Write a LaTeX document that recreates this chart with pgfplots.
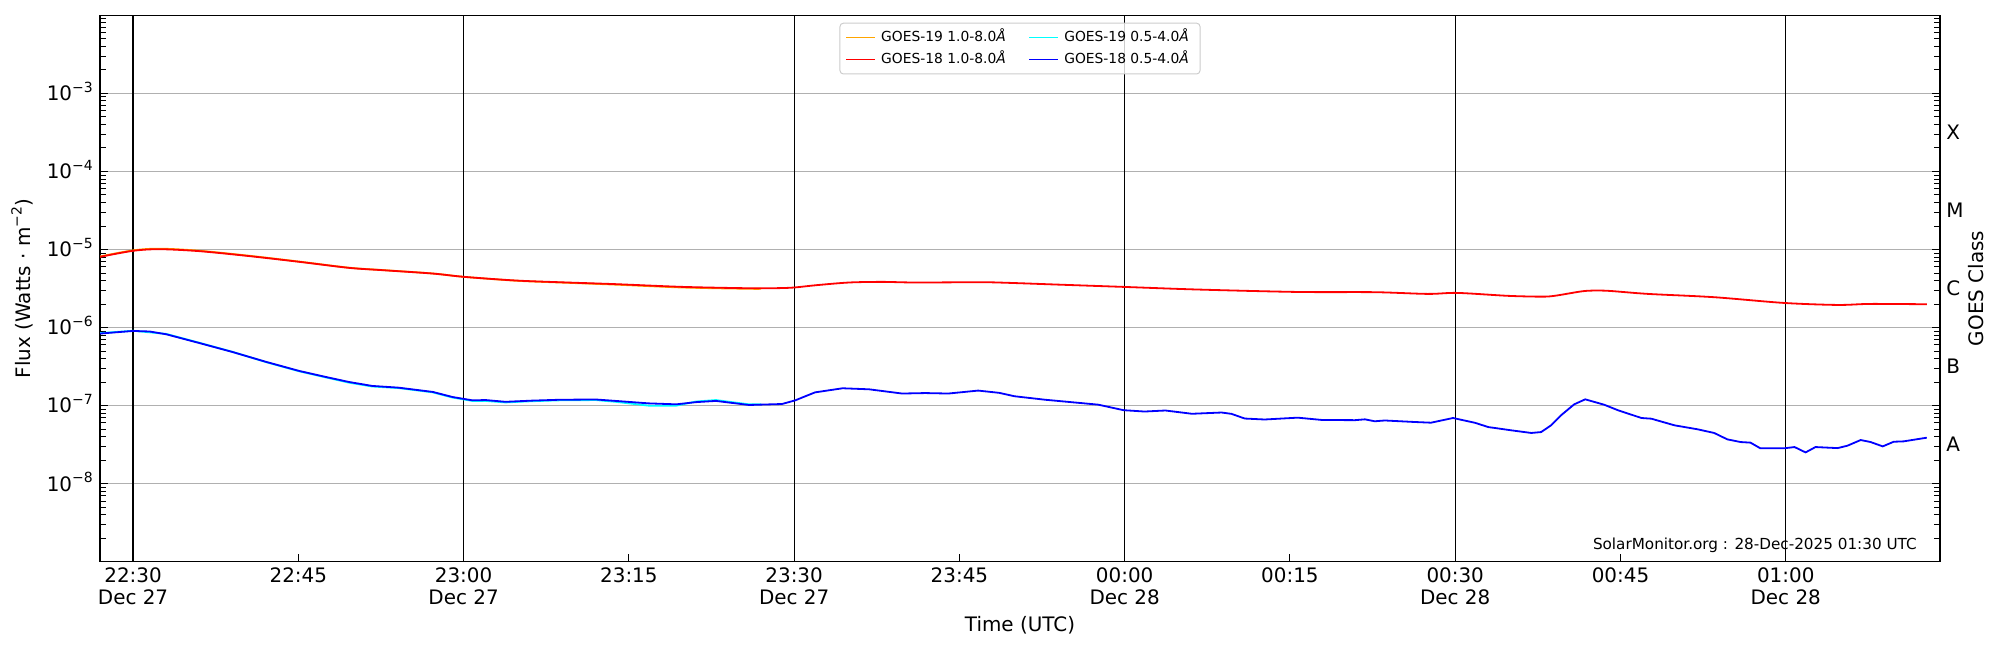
\documentclass[border=0pt]{standalone}
\usepackage{fontspec}
\setmainfont{DejaVu Sans}
\usepackage{pgfplots}
\pgfplotsset{compat=1.18}
\usepackage{pgfplotstable}

\definecolor{gridgray}{HTML}{B0B0B0}
\definecolor{goesorange}{HTML}{FFA500}
\definecolor{goescyan}{HTML}{00FFFF}
\definecolor{legframe}{HTML}{CCCCCC}

\newcommand\tf{\fontsize{14.4}{15.8}\selectfont}
\newcommand\pw[1]{10\raisebox{6.2bp}{\fontsize{10.1}{10.1}\selectfont −#1}}

% GOES-18 1.0-8.0 A  (minutes after 22:00 UTC, flux W/m^2)
\pgfplotstableread{
t f
27 8.05e-6
30 9.62e-6
32.4 1.009e-5
36 9.53e-6
40.6 8.22e-6
45.1 6.95e-6
49.6 5.82e-6
52.7 5.43e-6
57.2 4.92e-6
60 4.47e-6
64.7 4.01e-6
68.7 3.81e-6
73.8 3.60e-6
79.9 3.32e-6
85.9 3.19e-6
88.5 3.20e-6
90 3.26e-6
92 3.49e-6
95 3.78e-6
98 3.85e-6
101 3.78e-6
107 3.81e-6
109.5 3.74e-6
114 3.55e-6
119.9 3.32e-6
126.7 3.07e-6
135.7 2.86e-6
142.7 2.84e-6
147.5 2.70e-6
150.2 2.78e-6
154.8 2.55e-6
157.8 2.49e-6
159 2.55e-6
161.4 2.90e-6
162.5 2.98e-6
164 2.95e-6
167.5 2.70e-6
173.5 2.45e-6
179.8 2.07e-6
184.7 1.95e-6
187.7 2.01e-6
192.8 1.99e-6
}\redtab

% GOES-19 1.0-8.0 A
\pgfplotstableread{
t f
27 8.15e-6
30 9.75e-6
32.4 1.025e-5
36 9.65e-6
40.6 8.30e-6
45.1 7.00e-6
49.6 5.85e-6
52.7 5.45e-6
57.2 4.93e-6
60 4.47e-6
64.7 3.99e-6
68.7 3.78e-6
73.8 3.55e-6
79.9 3.26e-6
85.9 3.14e-6
87 3.14e-6
}\orangetab

% GOES-18 0.5-4.0 A
\pgfplotstableread{
t f
27 8.38e-7
30 9.06e-7
31.5 8.91e-7
33 8.22e-7
36 6.35e-7
39 4.88e-7
42.1 3.63e-7
45.1 2.78e-7
47.5 2.33e-7
49.6 2.01e-7
51.7 1.79e-7
54.1 1.70e-7
57.2 1.50e-7
59 1.29e-7
60.8 1.17e-7
62 1.18e-7
63.8 1.12e-7
66.2 1.16e-7
68.7 1.19e-7
72 1.20e-7
73.8 1.15e-7
76.8 1.07e-7
79.3 1.04e-7
81.1 1.11e-7
82.9 1.15e-7
85.9 1.02e-7
88.9 1.05e-7
90.1 1.17e-7
91.9 1.48e-7
94.4 1.67e-7
96.8 1.62e-7
99.8 1.43e-7
101.9 1.45e-7
104 1.43e-7
106.7 1.56e-7
108.6 1.46e-7
110 1.32e-7
112.8 1.19e-7
117.6 1.03e-7
119.9 8.75e-8
121.8 8.41e-8
123.7 8.67e-8
126.1 7.87e-8
128.8 8.17e-8
129.7 7.85e-8
130.9 6.84e-8
132.7 6.65e-8
135.7 7.02e-8
137.9 6.56e-8
140.9 6.52e-8
141.8 6.68e-8
142.7 6.31e-8
143.6 6.46e-8
146.3 6.18e-8
147.8 6.05e-8
149.8 6.95e-8
151.8 6.03e-8
153 5.32e-8
155.1 4.83e-8
156.9 4.47e-8
157.8 4.59e-8
158.7 5.60e-8
159.6 7.52e-8
160.8 1.04e-7
161.8 1.205e-7
163.5 1.03e-7
164.8 8.71e-8
166.9 6.95e-8
167.8 6.81e-8
169.9 5.60e-8
172 4.98e-8
173.5 4.47e-8
174.7 3.70e-8
175.9 3.42e-8
176.8 3.36e-8
177.7 2.84e-8
179.8 2.84e-8
180.8 2.95e-8
181.8 2.52e-8
182.7 2.95e-8
184.7 2.86e-8
185.6 3.07e-8
186.8 3.63e-8
187.7 3.42e-8
188.8 3.01e-8
189.8 3.45e-8
190.7 3.49e-8
192.8 3.89e-8
}\bluetab

% GOES-19 0.5-4.0 A
\pgfplotstableread{
t f
27 8.50e-7
30 9.10e-7
33 8.30e-7
36 6.40e-7
39 4.90e-7
42.1 3.60e-7
45.1 2.75e-7
47.5 2.30e-7
49.6 1.97e-7
51.7 1.76e-7
54.1 1.68e-7
57.2 1.48e-7
59 1.27e-7
60.8 1.15e-7
62 1.15e-7
63.8 1.10e-7
66.2 1.14e-7
68.7 1.17e-7
72 1.18e-7
73.8 1.12e-7
76.8 1.00e-7
79.3 1.00e-7
81.1 1.13e-7
82.9 1.18e-7
85.9 1.04e-7
87 1.04e-7
}\cyantab

\begin{document}
\begin{tikzpicture}
\path[use as bounding box] (0,0) rectangle (1440bp,468bp);
\begin{axis}[
  at={(72bp,63.5bp)}, anchor=south west,
  scale only axis, width=1324.8bp, height=393.5bp,
  xmin=27, xmax=194,
  ymode=log, ymin=1e-9, ymax=1e-2,
  xtick={30,45,60,75,90,105,120,135,150,165,180},
  xticklabels={{22:30\\Dec 27},22:45,{23:00\\Dec 27},23:15,{23:30\\Dec 27},23:45,{00:00\\Dec 28},00:15,{00:30\\Dec 28},00:45,{01:00\\Dec 28}},
  ytick={1e-9,1e-8,1e-7,1e-6,1e-5,1e-4,1e-3,1e-2},
  yticklabels={,\pw{8},\pw{7},\pw{6},\pw{5},\pw{4},\pw{3},},
  ymajorgrids,
  major grid style={gridgray, line width=0.75bp},
  extra x ticks={30,60,90,120,150,180},
  extra x tick labels={},
  extra x tick style={xmajorgrids=true, major grid style={black, line width=0.8bp}, major tick length=0pt},
  xtick pos=lower,
  ytick pos=both,
  tick align=inside,
  major tick length=5.8bp,
  minor tick length=4.3bp,
  tick style={black, line width=0.7bp},
  axis line style={line width=0.9bp},
  xticklabel style={font=\tf, align=center, inner sep=0pt, anchor=north, yshift=-4.3bp},
  yticklabel style={font=\tf, anchor=base east, inner sep=0pt, xshift=-5bp, yshift=-5.25bp},
  xlabel={Time (UTC)},
  ylabel={Flux (Watts · m\raisebox{6.2bp}{\fontsize{10.1}{10.1}\selectfont −2})},
  every axis x label/.style={at={(axis description cs:0.5,0)}, anchor=north, yshift=-39.2bp, inner sep=0pt, text height=10.5bp, font=\tf},
  every axis y label/.style={at={(axis description cs:0,0.5)}, xshift=-56.2bp, rotate=90, anchor=center, inner sep=0pt, font=\tf},
  legend columns=2,
  legend cell align=left,
  legend style={at={(0.5,0.9865)}, anchor=north,
    font=\fontsize{10}{12}\selectfont,
    draw=legframe, line width=0.7bp, rounded corners=2.5bp,
    fill=white, fill opacity=0.8, draw opacity=1, text opacity=1,
    inner xsep=4bp, inner ysep=2.2bp,
    nodes={inner xsep=4bp, inner ysep=2.8bp, text height=8bp, text depth=2.5bp},
    /tikz/every even column/.append style={column sep=12.4bp}},
  legend image code/.code={\draw[#1, line width=0.8bp] (0bp,0bp) -- (20.9bp,0bp);},
]
\addplot[goesorange, line width=1.3bp, smooth] table[x=t,y=f] {\orangetab};
\addlegendentry{GOES-19 1.0-8.0\textit{Å}}
\addplot[goescyan, line width=1.3bp] table[x=t,y=f] {\cyantab};
\addlegendentry{GOES-19 0.5-4.0\textit{Å}}
\addplot[red, line width=1.3bp, smooth] table[x=t,y=f] {\redtab};
\addlegendentry{GOES-18 1.0-8.0\textit{Å}}
\addplot[blue, line width=1.3bp] table[x=t,y=f] {\bluetab};
\addlegendentry{GOES-18 0.5-4.0\textit{Å}}
\node[anchor=base east, font=\fontsize{11}{13}\selectfont, inner sep=0pt] at (axis description cs:0.9875,0.0229) {SolarMonitor.org : 28-Dec-2025 01:30 UTC};
\end{axis}
\begin{axis}[
  at={(72bp,63.5bp)}, anchor=south west,
  scale only axis, width=1324.8bp, height=393.5bp,
  xmin=27, xmax=194,
  ymode=log, ymin=1e-9, ymax=1e-2,
  hide x axis,
  axis y line*=right,
  axis line style={draw=none},
  ytick={3.1623e-8,3.1623e-7,3.1623e-6,3.1623e-5,3.1623e-4},
  yticklabels={A,B,C,M,X},
  yminorticks=false,
  major tick length=0pt,
  yticklabel style={font=\tf, anchor=west, inner sep=0pt, xshift=4.3bp},
  ylabel={GOES Class},
  every axis y label/.style={at={(axis description cs:1,0.5)}, xshift=25.9bp, rotate=90, anchor=center, inner sep=0pt, font=\tf},
]
\end{axis}
\end{tikzpicture}
\end{document}
